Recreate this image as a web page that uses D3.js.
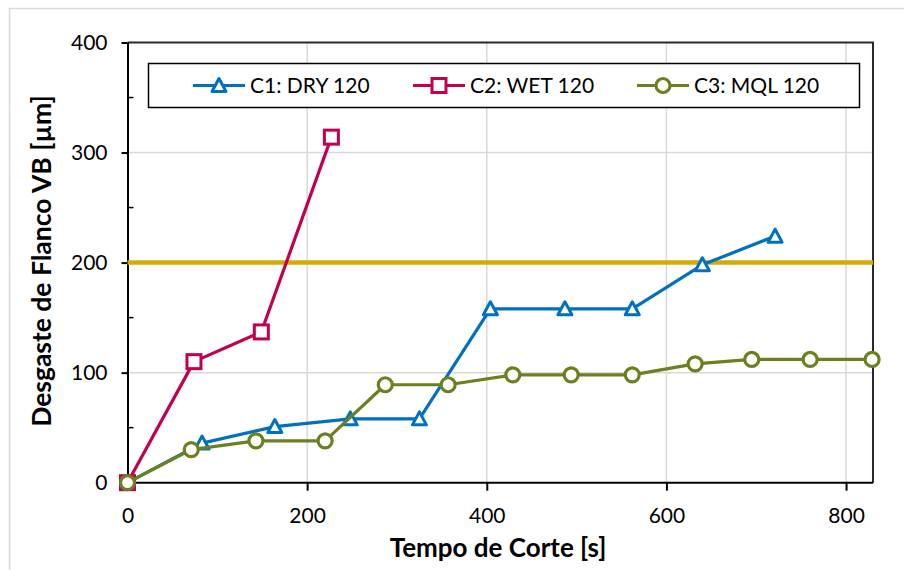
<!DOCTYPE html>
<html>
<head>
<meta charset="utf-8">
<script src="https://cdn.jsdelivr.net/npm/d3@7"></script>
<style>
  html, body { margin: 0; padding: 0; background: #fff; }
  svg { display: block; font-family: Lato, 'Open Sans', sans-serif; }
</style>
</head>
<body>
<div id="chart"></div>
<script>
// data
const dryTime = [0, 83, 164, 248, 325, 404, 487, 562, 640, 721];
const dryWear = [0, 36, 51, 58, 58, 158, 158, 158, 198, 224];

const wetTime = [0, 74, 149, 227];
const wetWear = [0, 110, 137, 314];

const mqlTime = [0, 71, 143, 220, 287, 357, 429, 494, 562, 632, 695, 760, 829];
const mqlWear = [0, 30, 38, 38, 89, 89, 98, 98, 98, 108, 112, 112, 112];

const limitTime = [0, 830];
const limitWear = [200, 200];

const xTicks = [0, 200, 400, 600, 800];
const yTicks = [0, 100, 200, 300, 400];
const yMinorTicks = [50, 150, 250, 350];

const seriesNames = ['C1: DRY 120', 'C2: WET 120', 'C3: MQL 120'];

const width = 904;
const height = 570;
const plot = { left: 127.5, right: 873, top: 42.5, bottom: 482.7 };

const svg = d3.select('#chart')
  .append('svg')
  .attr('width', width)
  .attr('height', height);

// outer chart frame
svg.append('rect')
  .attr('x', 9.5).attr('y', 8.5)
  .attr('width', 910).attr('height', 580)
  .attr('fill', '#fff')
  .attr('stroke', '#d9d9d9')
  .attr('stroke-width', 1.5);

const x = d3.scaleLinear().domain([0, 830]).range([plot.left, plot.right]);
const y = d3.scaleLinear().domain([0, 400]).range([plot.bottom, plot.top]);

// gridlines
svg.append('g')
  .selectAll('line')
  .data(xTicks.filter(d => d > 0))
  .join('line')
  .attr('x1', d => x(d)).attr('x2', d => x(d))
  .attr('y1', plot.top).attr('y2', plot.bottom)
  .attr('stroke', '#d9d9d9')
  .attr('stroke-width', 1.5);

svg.append('g')
  .selectAll('line')
  .data(yTicks.filter(d => d > 0 && d < 400))
  .join('line')
  .attr('x1', plot.left).attr('x2', plot.right)
  .attr('y1', d => y(d)).attr('y2', d => y(d))
  .attr('stroke', '#d9d9d9')
  .attr('stroke-width', 1.5);

// plot area border (top and right)
svg.append('path')
  .attr('d', `M${plot.left},${plot.top}H${plot.right}V${plot.bottom}`)
  .attr('fill', 'none')
  .attr('stroke', '#222a35')
  .attr('stroke-width', 2);

// axes
const xAxis = svg.append('g')
  .attr('transform', `translate(0,${plot.bottom})`)
  .call(d3.axisBottom(x).tickValues(xTicks).tickSize(8).tickPadding(17).tickSizeOuter(0));

const yAxis = svg.append('g')
  .attr('transform', `translate(${plot.left},0)`)
  .call(d3.axisLeft(y).tickValues(yTicks).tickSize(6).tickPadding(14).tickSizeOuter(0));

// minor ticks on y, pointing inside
svg.append('g')
  .selectAll('line')
  .data(yMinorTicks)
  .join('line')
  .attr('x1', plot.left).attr('x2', plot.left + 6)
  .attr('y1', d => y(d)).attr('y2', d => y(d))
  .attr('stroke', '#000')
  .attr('stroke-width', 1.5);

[xAxis, yAxis].forEach(ax => {
  ax.select('.domain').attr('stroke', '#000').attr('stroke-width', 2);
  ax.selectAll('.tick line').attr('stroke', '#000').attr('stroke-width', 2);
  ax.selectAll('.tick text')
    .attr('fill', '#000')
    .style('font-size', '21px')
    .style('font-family', 'Lato, sans-serif');
});
xAxis.select('.domain').attr('d', `M${plot.left},0H${plot.right}`);
xAxis.selectAll('.tick text').attr('dy', '0.71em');

// axis titles
svg.append('text')
  .attr('x', 498)
  .attr('y', 557)
  .attr('text-anchor', 'middle')
  .style('font-size', '26px')
  .style('font-weight', 'bold')
  .text('Tempo de Corte [s]');

svg.append('text')
  .attr('transform', 'translate(51,261) rotate(-90)')
  .attr('text-anchor', 'middle')
  .style('font-size', '26.5px')
  .style('font-weight', 'bold')
  .text('Desgaste de Flanco VB [µm]');

// series
const toPoints = (ts, vs) => ts.map((t, i) => ({ t, v: vs[i] }));
const line = d3.line().x(d => x(d.t)).y(d => y(d.v));

const limit = toPoints(limitTime, limitWear);
svg.append('path')
  .datum(limit)
  .attr('d', line)
  .attr('fill', 'none')
  .attr('stroke', '#d4ab00')
  .attr('stroke-width', 4.5);

const series = [
  { name: seriesNames[0], color: '#0070c0', marker: 'triangle', pts: toPoints(dryTime, dryWear) },
  { name: seriesNames[1], color: '#c00050', marker: 'square', pts: toPoints(wetTime, wetWear) },
  { name: seriesNames[2], color: '#6b801f', marker: 'circle', pts: toPoints(mqlTime, mqlWear) }
];

function drawMarker(g, type, color) {
  if (type === 'triangle') {
    g.append('path')
      .attr('d', 'M0,-7L7,6H-7Z')
      .attr('fill', '#fff').attr('stroke', color).attr('stroke-width', 3)
      .attr('stroke-linejoin', 'round');
  } else if (type === 'square') {
    g.append('rect')
      .attr('x', -7).attr('y', -7).attr('width', 14).attr('height', 14)
      .attr('fill', '#fff').attr('stroke', color).attr('stroke-width', 3);
  } else {
    g.append('circle')
      .attr('r', 7)
      .attr('fill', '#fff').attr('stroke', color).attr('stroke-width', 3.2);
  }
}

series.forEach(s => {
  svg.append('path')
    .datum(s.pts)
    .attr('d', line)
    .attr('fill', 'none')
    .attr('stroke', s.color)
    .attr('stroke-width', 3.2)
    .attr('stroke-linejoin', 'round');
  s.pts.forEach(p => {
    const g = svg.append('g').attr('transform', `translate(${x(p.t)},${y(p.v)})`);
    drawMarker(g, s.marker, s.color);
  });
});

// legend
const legend = svg.append('g');
legend.append('rect')
  .attr('x', 148.5).attr('y', 63.5)
  .attr('width', 711).attr('height', 44)
  .attr('fill', '#fff')
  .attr('stroke', '#000')
  .attr('stroke-width', 1.5);

const legendX = [193, 413, 637];
series.forEach((s, i) => {
  const g = legend.append('g').attr('transform', `translate(${legendX[i]},85.5)`);
  g.append('line')
    .attr('x1', 0).attr('x2', 52)
    .attr('stroke', s.color).attr('stroke-width', 3.2);
  const m = g.append('g').attr('transform', 'translate(26,0)');
  drawMarker(m, s.marker, s.color);
  g.append('text')
    .attr('x', 57).attr('y', 0)
    .attr('dy', '0.35em')
    .style('font-size', '21px')
    .text(s.name);
});
</script>
</body>
</html>
